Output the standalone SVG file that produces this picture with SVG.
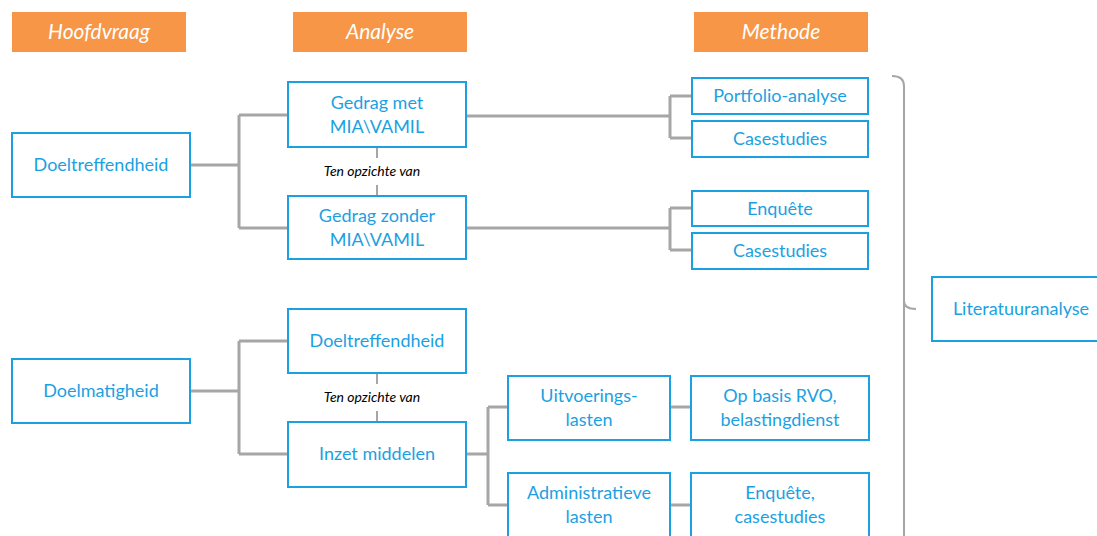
<svg xmlns="http://www.w3.org/2000/svg" width="1097" height="536" viewBox="0 0 1097 536">
<style>
.hdr{fill:#f79646}
.hdrt{font-family:Lato,"Open Sans",sans-serif;font-style:italic;font-size:21px;fill:#ffffff;text-anchor:middle}
.box{fill:#ffffff;stroke:#1ba1e2;stroke-width:2}
.t{font-family:Lato,"Open Sans",sans-serif;font-size:18px;fill:#1ba1e2;text-anchor:middle}
.conn{fill:none;stroke:#a6a6a6;stroke-width:3}
.thin{fill:none;stroke:#a6a6a6;stroke-width:2}
.lbl{font-family:Lato,"Open Sans",sans-serif;font-style:italic;font-size:14px;fill:#000000;text-anchor:middle}
</style>
<rect width="1097" height="536" fill="#ffffff"/>
<g id="connectors">
<path class="conn" d="M190,165 H239 M239,115 V228 M239,115 H288 M239,228 H288"/>
<path class="conn" d="M466,116 H670 M670,96 V138 M670,96 H692 M670,138 H692"/>
<path class="conn" d="M466,228 H670 M670,208 V250 M670,208 H692 M670,250 H692"/>
<path class="conn" d="M190,391 H239 M239,341 V454 M239,341 H288 M239,454 H288"/>
<path class="conn" d="M466,454 H488 M488,407 V505 M488,407 H508 M488,505 H508"/>
<path class="conn" d="M670,407 H691 M670,505 H691"/>
<path class="thin" d="M377,147 V158 M377,185 V196"/>
<path class="thin" d="M377,373 V384 M377,411 V422"/>
<path class="thin" d="M892,76 Q904,76 904,86 V536 M904,301 Q904,309 916,309"/>
</g>
<g id="header-hoofdvraag"><rect class="hdr" x="12" y="12" width="174" height="40"/><text class="hdrt" x="99" y="39">Hoofdvraag</text></g>
<g id="header-analyse"><rect class="hdr" x="293" y="12" width="174" height="40"/><text class="hdrt" x="380" y="39">Analyse</text></g>
<g id="header-methode"><rect class="hdr" x="694" y="12" width="174" height="40"/><text class="hdrt" x="781" y="39">Methode</text></g>
<g id="doeltreffendheid"><rect class="box" x="12" y="133" width="178" height="64"/><text class="t" x="101" y="171">Doeltreffendheid</text></g>
<g id="gedrag-met"><rect class="box" x="288" y="82" width="178" height="65"/><text class="t" x="377" y="109">Gedrag met</text><text class="t" x="377" y="133">MIA\VAMIL</text></g>
<g id="label-1"><text class="lbl" x="372" y="176">Ten opzichte van</text></g>
<g id="gedrag-zonder"><rect class="box" x="288" y="196" width="178" height="63"/><text class="t" x="377" y="222">Gedrag zonder</text><text class="t" x="377" y="246">MIA\VAMIL</text></g>
<g id="portfolio"><rect class="box" x="692" y="78" width="176" height="36"/><text class="t" x="780" y="102">Portfolio-analyse</text></g>
<g id="casestudies-1"><rect class="box" x="692" y="121" width="176" height="36"/><text class="t" x="780" y="145">Casestudies</text></g>
<g id="enquete"><rect class="box" x="692" y="191" width="176" height="35"/><text class="t" x="780" y="215">Enquête</text></g>
<g id="casestudies-2"><rect class="box" x="692" y="233" width="176" height="36"/><text class="t" x="780" y="257">Casestudies</text></g>
<g id="literatuuranalyse"><rect class="box" x="932" y="277" width="180" height="64"/><text class="t" x="1021" y="315">Literatuuranalyse</text></g>
<g id="doelmatigheid"><rect class="box" x="12" y="359" width="178" height="64"/><text class="t" x="101" y="397">Doelmatigheid</text></g>
<g id="doeltreffendheid-2"><rect class="box" x="288" y="309" width="178" height="64"/><text class="t" x="377" y="347">Doeltreffendheid</text></g>
<g id="label-2"><text class="lbl" x="372" y="402">Ten opzichte van</text></g>
<g id="inzet-middelen"><rect class="box" x="288" y="422" width="178" height="65"/><text class="t" x="377" y="460">Inzet middelen</text></g>
<g id="uitvoeringslasten"><rect class="box" x="508" y="376" width="162" height="64"/><text class="t" x="589" y="402">Uitvoerings-</text><text class="t" x="589" y="426">lasten</text></g>
<g id="administratieve-lasten"><rect class="box" x="508" y="473" width="162" height="66"/><text class="t" x="589" y="499">Administratieve</text><text class="t" x="589" y="523">lasten</text></g>
<g id="op-basis-rvo"><rect class="box" x="691" y="376" width="178" height="64"/><text class="t" x="780" y="402">Op basis RVO,</text><text class="t" x="780" y="426">belastingdienst</text></g>
<g id="enquete-casestudies"><rect class="box" x="691" y="473" width="178" height="66"/><text class="t" x="780" y="499">Enquête,</text><text class="t" x="780" y="523">casestudies</text></g>
</svg>
